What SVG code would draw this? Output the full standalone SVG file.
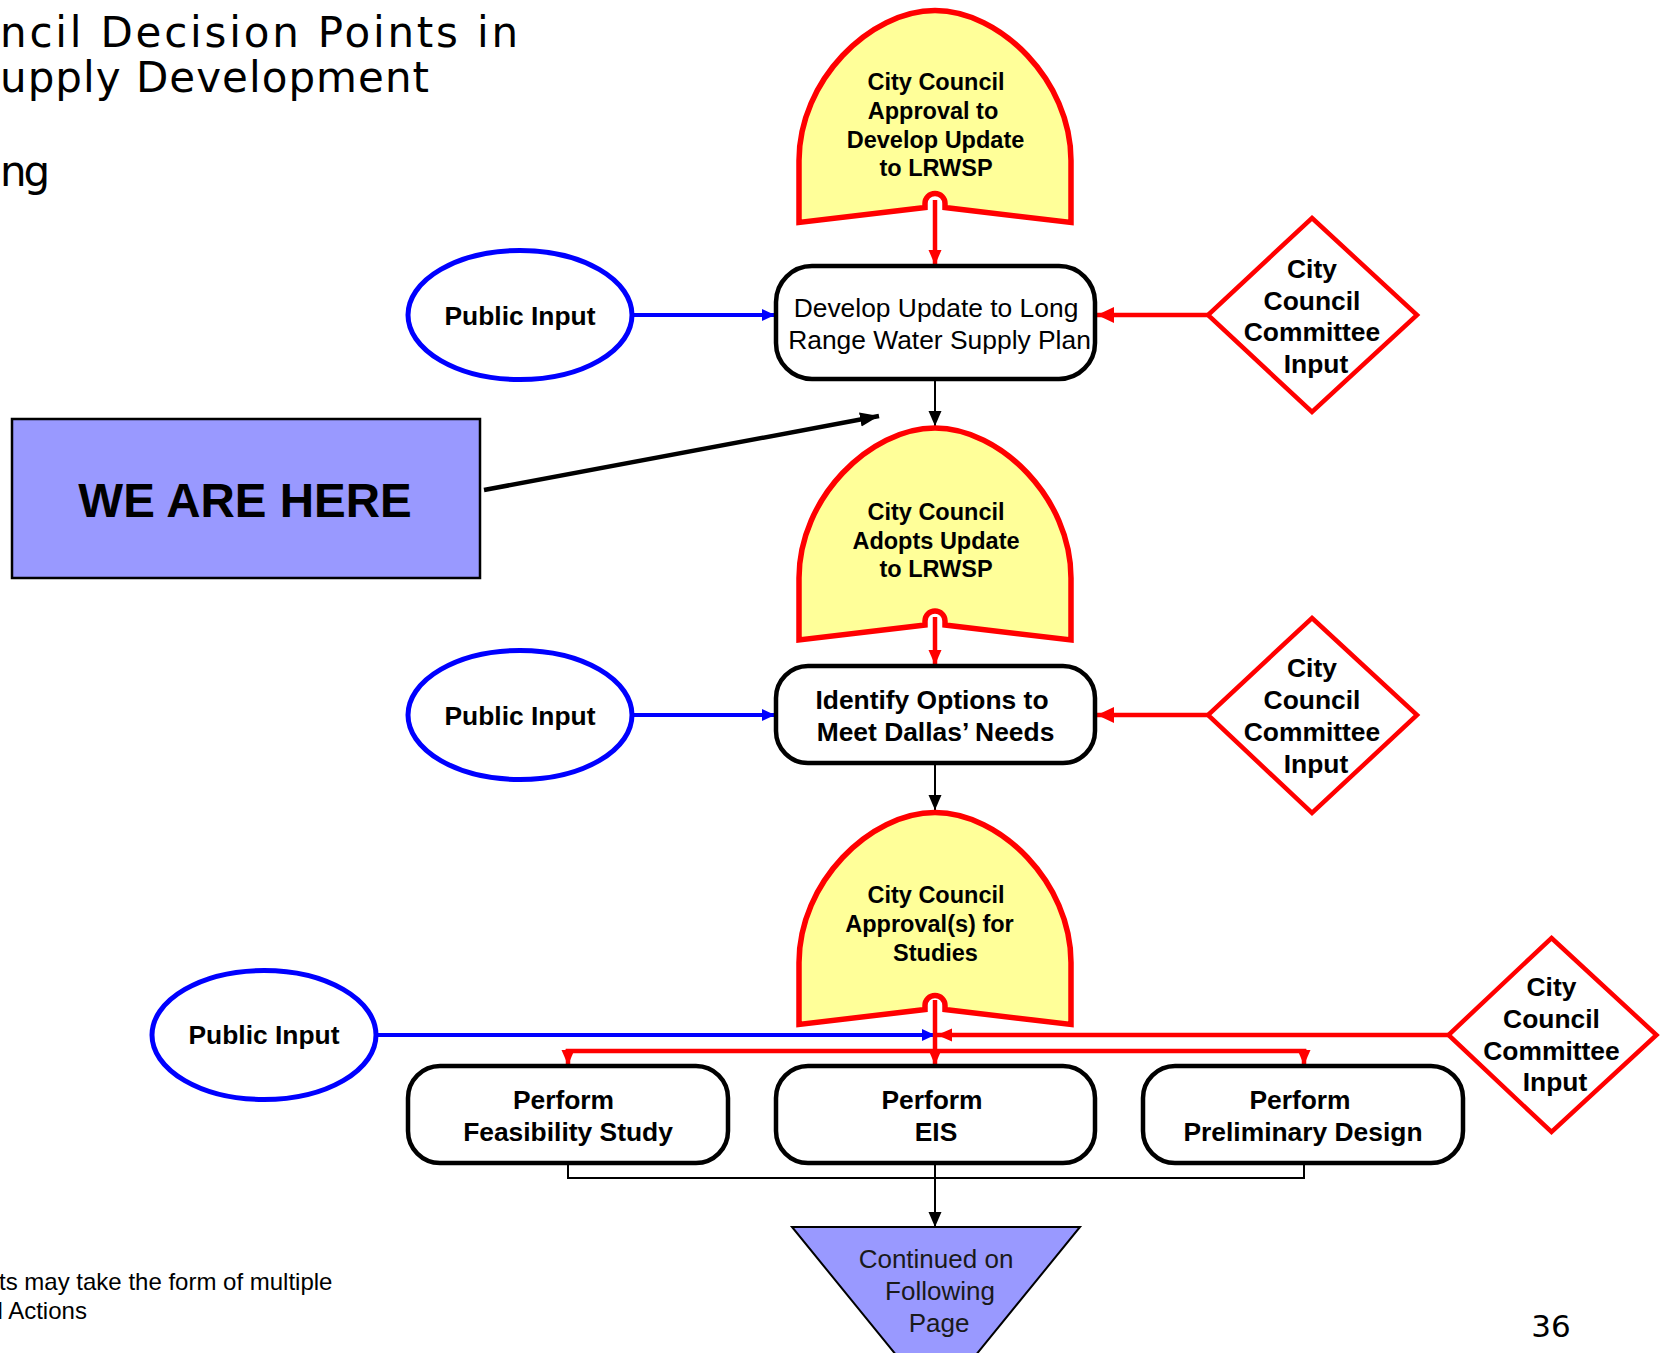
<svg xmlns="http://www.w3.org/2000/svg" width="1664" height="1353" viewBox="0 0 1664 1353">
<style>
  .dome{fill:#ffff99;stroke:#ff0000;stroke-width:5.5;stroke-linejoin:miter}
  .box{fill:#ffffff;stroke:#000000;stroke-width:4.5}
  .ell{fill:#ffffff;stroke:#0000ff;stroke-width:5}
  .dia{fill:#ffffff;stroke:#ff0000;stroke-width:4.5}
  .tri{fill:#9999ff;stroke:#000000;stroke-width:2}
  .here{fill:#9999ff;stroke:#000000;stroke-width:2.5}
  text{font-family:"Liberation Sans",Arial,sans-serif;text-anchor:middle;fill:#000000}
  .td{font-size:23.5px;font-weight:bold}
  .tb{font-size:26.4px;font-weight:bold}
  .tr{font-size:26.4px}
  .tt{font-size:26px;fill:#1a1a1a}
  .we{font-size:47.5px;font-weight:bold}
  .title{font-family:"DejaVu Sans",Verdana,sans-serif;font-size:42px;text-anchor:start}
  .pg{font-family:"DejaVu Sans",Verdana,sans-serif;font-size:31px}
  .foot{font-size:24px;text-anchor:start}
  .cb{fill:none;stroke:#0000ff;stroke-width:4}
  .cr{fill:none;stroke:#ff0000;stroke-width:4.5}
  .ck{fill:none;stroke:#000000;stroke-width:2}
  .ckw{fill:none;stroke:#000000;stroke-width:4.5}
</style>
<defs>
  <marker id="ab" markerUnits="userSpaceOnUse" markerWidth="14" markerHeight="14" refX="13" refY="7" orient="auto">
    <path d="M0,1 L13,7 L0,13 Z" fill="#0000ff"/>
  </marker>
  <marker id="ar" markerUnits="userSpaceOnUse" markerWidth="18" markerHeight="18" refX="17" refY="9" orient="auto">
    <path d="M0,1 L17,9 L0,17 Z" fill="#ff0000"/>
  </marker>
  <marker id="ard" markerUnits="userSpaceOnUse" markerWidth="16" markerHeight="16" refX="15" refY="8" orient="auto">
    <path d="M0,1.5 L15,8 L0,14.5 Z" fill="#ff0000"/>
  </marker>
  <marker id="ak" markerUnits="userSpaceOnUse" markerWidth="16" markerHeight="16" refX="15" refY="8" orient="auto">
    <path d="M0,1.5 L15,8 L0,14.5 Z" fill="#000000"/>
  </marker>
  <marker id="akw" markerUnits="userSpaceOnUse" markerWidth="20" markerHeight="18" refX="19" refY="9" orient="auto">
    <path d="M0,2 L19,9 L0,16 Z" fill="#000000"/>
  </marker>
</defs>

<g id="title">
  <text class="title" x="0" y="47" textLength="518">ncil Decision Points in</text>
  <text class="title" x="0" y="92" textLength="429">upply Development</text>
  <text class="title" x="0" y="186" letter-spacing="-3">ng</text>
</g>

<g id="connectors">
  <!-- row 1 -->
  <line class="cb" x1="634" y1="315" x2="775" y2="315" marker-end="url(#ab)"/>
  <line class="cr" x1="1208" y1="315" x2="1097" y2="315" marker-end="url(#ar)"/>
  <line class="cr" x1="935" y1="200" x2="935" y2="265" marker-end="url(#ard)"/>
  <line class="ck" x1="935" y1="381" x2="935" y2="426" marker-end="url(#ak)"/>
  <line class="ckw" x1="484" y1="490" x2="879" y2="416" marker-end="url(#akw)"/>
  <!-- row 2 -->
  <line class="cb" x1="634" y1="715" x2="775" y2="715" marker-end="url(#ab)"/>
  <line class="cr" x1="1208" y1="715" x2="1097" y2="715" marker-end="url(#ar)"/>
  <line class="cr" x1="935" y1="617" x2="935" y2="665" marker-end="url(#ard)"/>
  <line class="ck" x1="935" y1="765" x2="935" y2="810" marker-end="url(#ak)"/>
  <!-- row 3 -->
  <line class="cb" x1="378" y1="1035" x2="935" y2="1035" marker-end="url(#ab)"/>
  <line class="cr" x1="1448" y1="1035" x2="937" y2="1035" marker-end="url(#ard)"/>
  <line class="cr" x1="935" y1="1000" x2="935" y2="1065" marker-end="url(#ard)"/>
  <polyline class="cr" points="568,1053 568,1051 1304,1051 1304,1053"/>
  <line class="cr" x1="568" y1="1049" x2="568" y2="1065" marker-end="url(#ard)"/>
  <line class="cr" x1="1304" y1="1049" x2="1304" y2="1065" marker-end="url(#ard)"/>
  <polyline class="ck" points="568,1164 568,1178 1304,1178 1304,1164"/>
  <line class="ck" x1="935" y1="1164" x2="935" y2="1227" marker-end="url(#ak)"/>
</g>

<g id="dome1">
  <path class="dome" d="M799,222.5 L799,160.5 C799,80.5 870,10.5 935,10.5 C1000,10.5 1071,80.5 1071,160.5 L1071,222.5 L945,207.5 L945,203.5 A10,10 0 0 0 925,203.5 L925,207.5 Z"/>
  <text class="td" x="936" y="90">City Council</text>
  <text class="td" x="933" y="119">Approval to</text>
  <text class="td" x="935.5" y="147.5">Develop Update</text>
  <text class="td" x="936" y="176">to LRWSP</text>
</g>

<g id="box1">
  <rect class="box" x="776" y="266" width="319" height="113" rx="36" ry="36"/>
  <text class="tr" x="936" y="317">Develop Update to Long</text>
  <text class="tr" x="939.5" y="349">Range Water Supply Plan</text>
</g>

<g id="public1">
  <ellipse class="ell" cx="520" cy="315" rx="112" ry="64.5"/>
  <text class="tb" x="520" y="325">Public Input</text>
</g>

<g id="committee1">
  <polygon class="dia" points="1312,218 1417,315 1312,412 1208,315"/>
  <text class="tb" x="1312" y="278">City</text>
  <text class="tb" x="1312" y="310">Council</text>
  <text class="tb" x="1312" y="341">Committee</text>
  <text class="tb" x="1316" y="372.5">Input</text>
</g>

<g id="wearehere">
  <rect class="here" x="12" y="419" width="468" height="159"/>
  <text class="we" x="245" y="517">WE ARE HERE</text>
</g>

<g id="dome2">
  <path class="dome" d="M799,640 L799,578 C799,498 870,428 935,428 C1000,428 1071,498 1071,578 L1071,640 L945,625 L945,621 A10,10 0 0 0 925,621 L925,625 Z"/>
  <text class="td" x="936" y="520">City Council</text>
  <text class="td" x="936" y="549">Adopts Update</text>
  <text class="td" x="936" y="577">to LRWSP</text>
</g>

<g id="box2">
  <rect class="box" x="776" y="666" width="319" height="97" rx="32" ry="32"/>
  <text class="tb" x="932" y="709">Identify Options to</text>
  <text class="tb" x="935.5" y="741">Meet Dallas’ Needs</text>
</g>

<g id="public2">
  <ellipse class="ell" cx="520" cy="715" rx="112" ry="64.5"/>
  <text class="tb" x="520" y="725">Public Input</text>
</g>

<g id="committee2">
  <polygon class="dia" points="1312,618 1417,715 1312,813 1208,715"/>
  <text class="tb" x="1312" y="677">City</text>
  <text class="tb" x="1312" y="709">Council</text>
  <text class="tb" x="1312" y="741">Committee</text>
  <text class="tb" x="1316" y="772.5">Input</text>
</g>

<g id="dome3">
  <path class="dome" d="M799,1024.5 L799,962.5 C799,882.5 870,812.5 935,812.5 C1000,812.5 1071,882.5 1071,962.5 L1071,1024.5 L945,1009.5 L945,1005.5 A10,10 0 0 0 925,1005.5 L925,1009.5 Z"/>
  <text class="td" x="936" y="903">City Council</text>
  <text class="td" x="929.5" y="932">Approval(s) for</text>
  <text class="td" x="935.5" y="961">Studies</text>
</g>

<g id="public3">
  <ellipse class="ell" cx="264" cy="1035" rx="112" ry="64.5"/>
  <text class="tb" x="264" y="1044">Public Input</text>
</g>

<g id="committee3">
  <polygon class="dia" points="1551.5,938 1656.5,1035 1551.5,1132 1448.5,1035"/>
  <text class="tb" x="1551.5" y="996">City</text>
  <text class="tb" x="1551.5" y="1028">Council</text>
  <text class="tb" x="1551.5" y="1060">Committee</text>
  <text class="tb" x="1555" y="1091">Input</text>
</g>

<g id="feasibility">
  <rect class="box" x="408" y="1066" width="320" height="97" rx="32" ry="32"/>
  <text class="tb" x="563.5" y="1109">Perform</text>
  <text class="tb" x="568" y="1141">Feasibility Study</text>
</g>

<g id="eis">
  <rect class="box" x="776" y="1066" width="319" height="97" rx="32" ry="32"/>
  <text class="tb" x="932" y="1109">Perform</text>
  <text class="tb" x="936" y="1141">EIS</text>
</g>

<g id="preliminary">
  <rect class="box" x="1143" y="1066" width="320" height="97" rx="32" ry="32"/>
  <text class="tb" x="1300" y="1109">Perform</text>
  <text class="tb" x="1303" y="1141">Preliminary Design</text>
</g>

<g id="continued">
  <polygon class="tri" points="792,1227 1080,1227 936,1404"/>
  <text class="tt" x="936" y="1268">Continued on</text>
  <text class="tt" x="940" y="1300">Following</text>
  <text class="tt" x="939" y="1332">Page</text>
</g>

<g id="footnote">
  <text class="foot" x="-1" y="1290">ts may take the form of multiple</text>
  <text class="foot" x="-2.5" y="1319">l Actions</text>
</g>

<g id="pagenum">
  <text class="pg" x="1551" y="1337">36</text>
</g>
</svg>
